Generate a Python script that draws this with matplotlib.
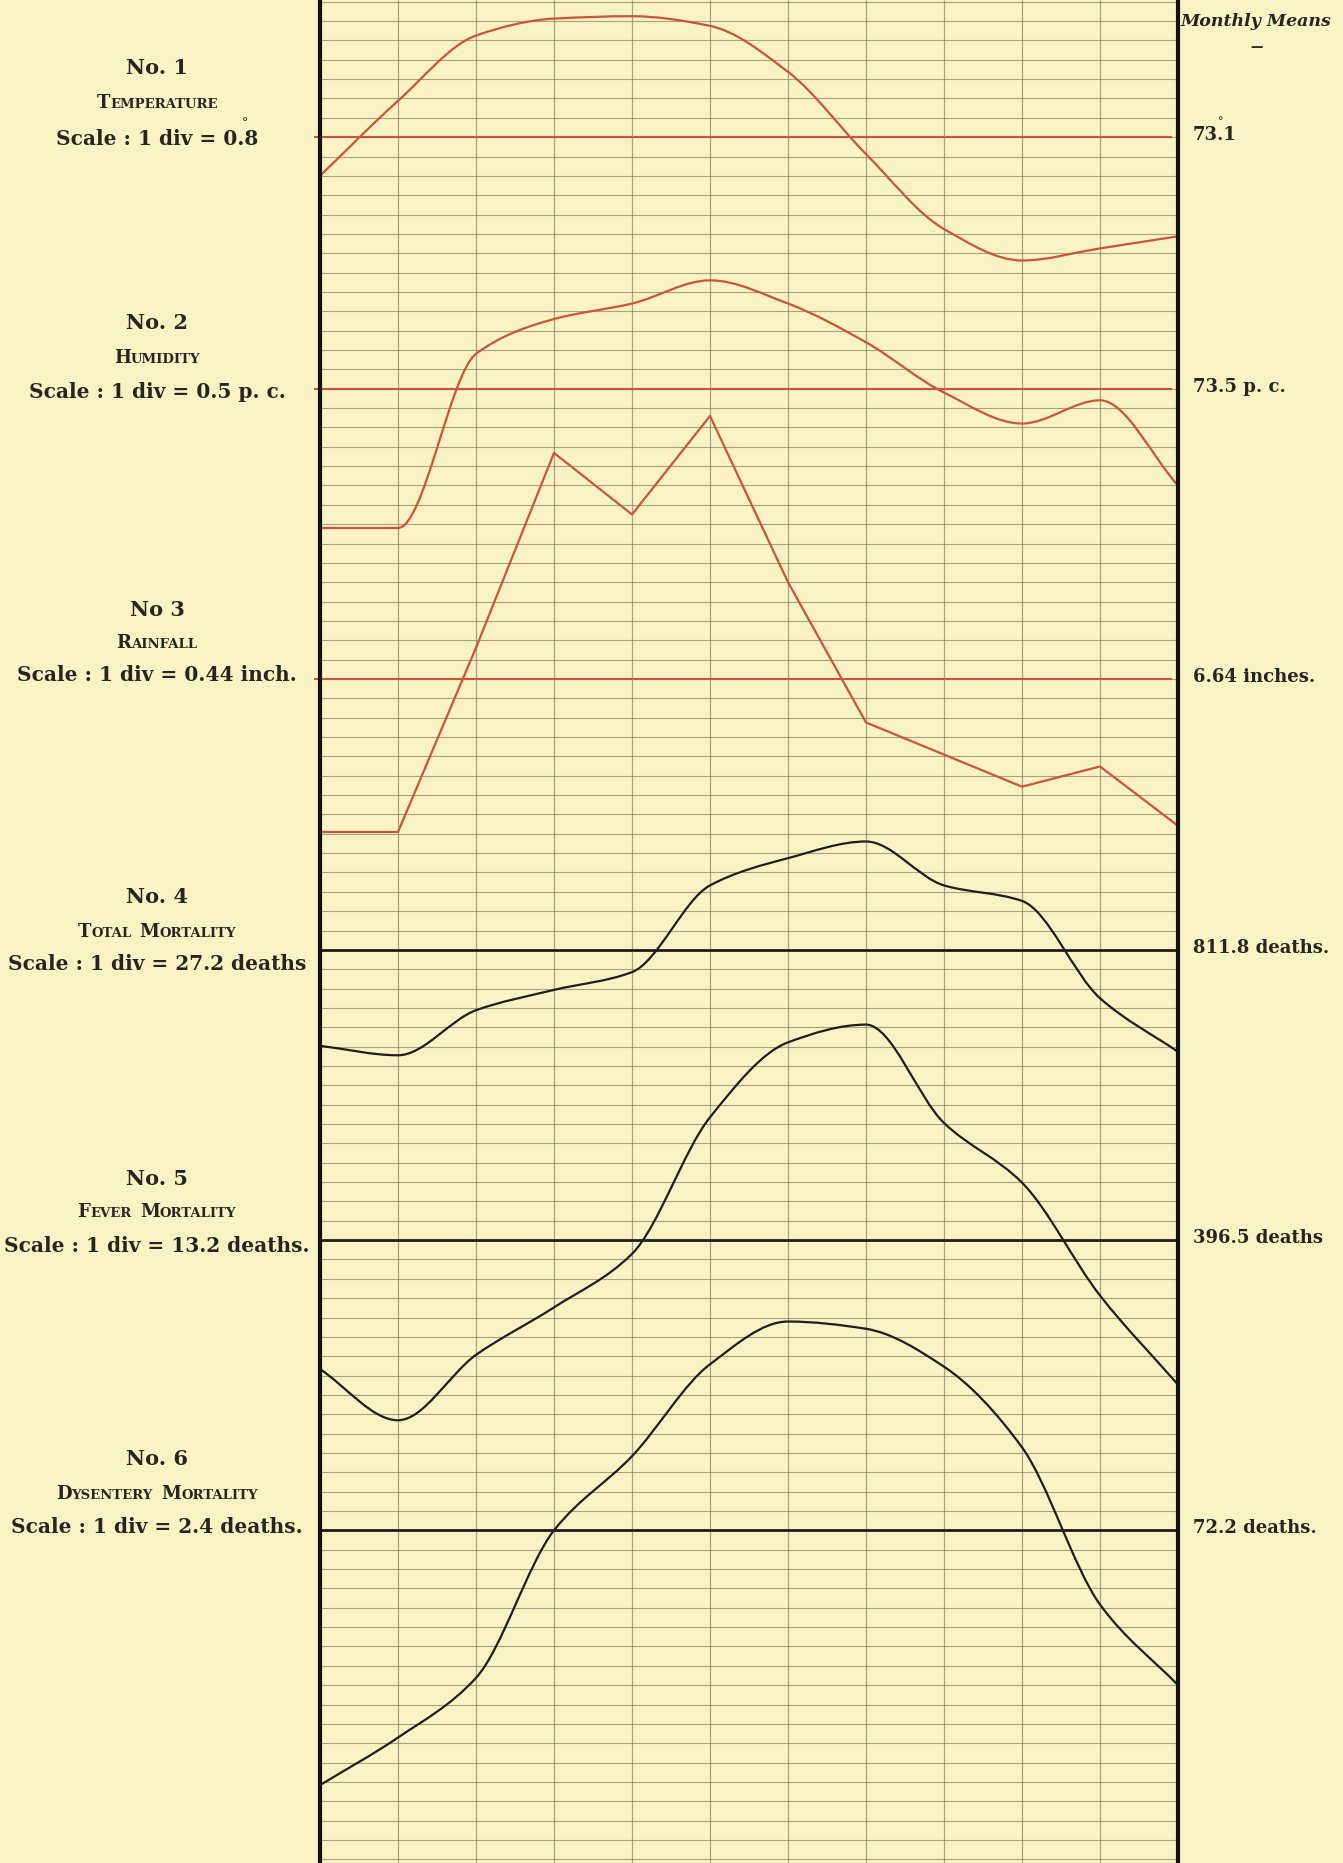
import matplotlib
matplotlib.use("Agg")
import matplotlib.pyplot as plt
import numpy as np
from matplotlib.offsetbox import TextArea, HPacker, AnnotationBbox
from matplotlib.path import Path
from matplotlib.patches import PathPatch

# ---------------- data (monthly values) ----------------
months = ["Jan", "Feb", "Mar", "Apr", "May", "Jun",
          "Jul", "Aug", "Sep", "Oct", "Nov", "Dec"]
temperature = [71.5, 74.6, 77.3, 78.0, 78.1, 77.7, 75.8, 72.4, 69.3, 68.0, 68.5, 69.0]
humidity = [69.9, 69.9, 74.4, 75.3, 75.7, 76.3, 75.7, 74.7, 73.4, 72.6, 73.2, 71.0]
rainfall = [3.16, 3.16, 7.35, 11.78, 10.38, 12.62, 8.84, 5.65, 4.92, 4.19, 4.65, 3.30]
total_mortality = [676.9, 663.6, 726.9, 755.5, 780.5, 902.4, 940.7, 964.1, 902.4, 880.6, 743.8, 668.5]
fever_mortality = [308.5, 273.6, 318.2, 350.6, 387.1, 480.3, 531.4, 543.5, 476.4, 435.7, 358.7, 297.9]
dysentery_mortality = [40.6, 46.5, 53.9, 72.2, 81.4, 92.8, 98.1, 97.2, 92.5, 82.5, 63.0, 53.0]

series_names = ["Temperature", "Humidity", "Rainfall",
                "Total Mortality", "Fever Mortality", "Dysentery Mortality"]
numbers = ["No. 1", "No. 2", "No 3", "No. 4", "No. 5", "No. 6"]
scale_labels = ["Scale : 1 div = 0.8", "Scale : 1 div = 0.5 p. c.",
                "Scale : 1 div = 0.44 inch.", "Scale : 1 div = 27.2 deaths",
                "Scale : 1 div = 13.2 deaths.", "Scale : 1 div = 2.4 deaths."]
monthly_means = [73.1, 73.5, 6.64, 811.8, 396.5, 72.2]
mean_labels = ["73.1", "73.5 p. c.", "6.64 inches.", "811.8 deaths.",
               "396.5 deaths", "72.2 deaths."]
scales = [0.8, 0.5, 0.44, 27.2, 13.2, 2.4]

# ---------------- layout / style ----------------
W, H = 1343, 1863
BG = "#F9F2C4"
RED = "#C9553A"
BLACK = "#1e1e1a"
GRID = "#6f6f5c"
INK = "#26261f"
SERIF = ["DejaVu Serif"]

mean_rows = [7, 20, 35, 49, 64, 79]        # grid division holding each mean line
row_px, row0_px = 19.35, 1.7               # division height / offset in pixels
n_rows = 96
colors = [RED, RED, RED, BLACK, BLACK, BLACK]
smooth = [True, True, False, True, True, True]
label_y = [(68, 103, 139), (323, 358, 392), (610, 643, 675),
           (897, 932, 964), (1179, 1212, 1246), (1459, 1494, 1527)]

fig = plt.figure(figsize=(W / 100, H / 100), dpi=100, facecolor=BG)
ax = fig.add_axes([320 / W, 0, 858 / W, 1])
ax.set_xlim(0, 11)
ax.set_ylim((H - row0_px) / row_px, -row0_px / row_px)
ax.axis("off")

x = np.arange(len(months))

# grid
ax.hlines(np.arange(0, n_rows + 1), 0, 11, color=GRID, lw=0.8, alpha=0.6, zorder=1)
ax.vlines(x[1:-1], *ax.get_ylim(), color=GRID, lw=0.9, alpha=0.6, zorder=1)
ax.vlines([0, 11], *ax.get_ylim(), color="#111111", lw=3.0, zorder=5, clip_on=False)


def curve_path(xs, ys):
    """Monotone cubic (Fritsch-Butland) drawn as Bezier segments through the points."""
    xs = np.asarray(xs, float)
    ys = np.asarray(ys, float)
    d = np.diff(ys)
    m = np.empty_like(ys)
    m[0], m[-1] = d[0], d[-1]
    for k in range(1, len(ys) - 1):
        if d[k - 1] * d[k] <= 0:
            m[k] = 0.0
        else:
            m[k] = 2 * d[k - 1] * d[k] / (d[k - 1] + d[k])
    verts = [(xs[0], ys[0])]
    codes = [Path.MOVETO]
    for i in range(len(ys) - 1):
        h = xs[i + 1] - xs[i]
        verts += [(xs[i] + h / 3, ys[i] + m[i] / 3),
                  (xs[i + 1] - h / 3, ys[i + 1] - m[i + 1] / 3),
                  (xs[i + 1], ys[i + 1])]
        codes += [Path.CURVE4] * 3
    return Path(verts, codes)


data = [temperature, humidity, rainfall, total_mortality, fever_mortality, dysentery_mortality]
for vals, mean, sc, row, col, sm in zip(data, monthly_means, scales, mean_rows, colors, smooth):
    ydiv = row - (np.asarray(vals) - mean) / sc
    if sm:
        ax.add_patch(PathPatch(curve_path(x, ydiv), fill=False, edgecolor=col,
                               lw=1.6, zorder=4))
    else:
        ax.plot(x, ydiv, color=col, lw=1.6, zorder=4, solid_joinstyle="round")
    if col == RED:
        ax.hlines(row, -0.08, 10.92, color=col, lw=1.5, zorder=3, clip_on=False)
    else:
        ax.hlines(row, 0, 11, color=col, lw=2.0, zorder=3)


def fx(px):
    return px / W


def fy(py):
    return 1 - py / H


def smallcaps(text, cx, cy, big=13, small=9.5):
    kids = []
    words = text.split()
    for i, w in enumerate(words):
        kids.append(TextArea(w[0].upper(), textprops=dict(fontsize=big, family=SERIF,
                                                        weight="bold", color=INK)))
        kids.append(TextArea(w[1:].upper(), textprops=dict(fontsize=small, family=SERIF,
                                                         weight="bold", color=INK)))
        if i < len(words) - 1:
            kids.append(TextArea("  ", textprops=dict(fontsize=small, family=SERIF)))
    box = HPacker(children=kids, align="baseline", pad=0, sep=0)
    ab = AnnotationBbox(box, (fx(cx), fy(cy)), xycoords="figure fraction",
                        frameon=False, box_alignment=(0.5, 0.5), pad=0)
    fig.add_artist(ab)


CX = 157
for i in range(6):
    y1, y2, y3 = label_y[i]
    fig.text(fx(CX), fy(y1), numbers[i], ha="center", va="center", fontsize=15,
             family=SERIF, weight="bold", color=INK)
    smallcaps(series_names[i], CX, y2)
    t = fig.text(fx(CX), fy(y3), scale_labels[i], ha="center", va="center",
                 fontsize=14.5, family=SERIF, weight="bold", color=INK)
    if i == 0:
        ax.annotate("°", xy=(0.935, 0.95), xycoords=t, ha="center", va="bottom",
                    fontsize=9, family=SERIF, color=INK)

# right-hand labels
fig.text(fx(1181), fy(22), "Monthly Means", ha="left", va="center", fontsize=12.5,
         family=SERIF, weight="bold", style="italic", color=INK)
fig.text(fx(1257), fy(47), "—", ha="center", va="center", fontsize=9,
         family=SERIF, weight="bold", color=INK)
for i in range(6):
    ypx = row0_px + mean_rows[i] * row_px
    t = fig.text(fx(1193), fy(ypx - 2), mean_labels[i], ha="left", va="center",
                 fontsize=13, family=SERIF, weight="bold", color=INK)
    if i == 0:
        ax.annotate("°", xy=(0.63, 0.95), xycoords=t, ha="center", va="bottom",
                    fontsize=8, family=SERIF, color=INK)

fig.savefig("out.png", dpi=100, facecolor=BG)
